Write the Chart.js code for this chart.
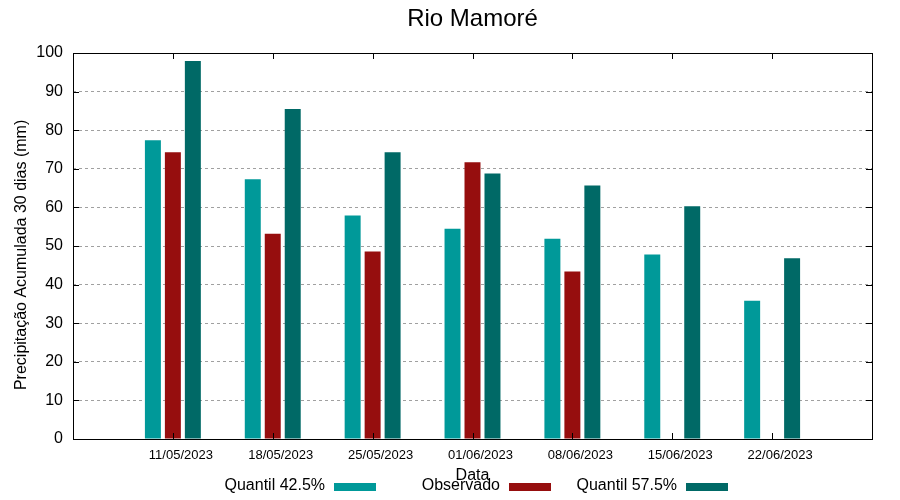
<!DOCTYPE html>
<html>
<head>
<meta charset="utf-8">
<script src="https://cdn.jsdelivr.net/npm/chart.js@4.4.0/dist/chart.umd.min.js"></script>
<style>
  html, body { margin: 0; padding: 0; background: #fff; }
  #wrap { width: 900px; height: 500px; }
</style>
</head>
<body>
<div id="wrap"><canvas id="grafico" width="900" height="500"></canvas></div>
<script>
const datas = ['11/05/2023', '18/05/2023', '25/05/2023', '01/06/2023', '08/06/2023', '15/06/2023', '22/06/2023'];
const quantil425 = [77.4, 67.3, 57.9, 54.5, 51.9, 47.8, 35.8];
const observado = [74.3, 53.2, 48.6, 71.7, 43.4, null, null];
const quantil575 = [97.9, 85.5, 74.3, 68.8, 65.7, 60.3, 46.8];

const cores = ['#009999', '#960e0e', '#006966'];
const FONTE = 'Liberation Sans, Arial, sans-serif';
const titulo = 'Rio Mamoré';

const pontos = arr => arr.map((v, i) => ({ x: i, y: v }));

// moldura + tiques para dentro, estilo gnuplot
const moldura = {
  id: 'moldura',
  afterDatasetsDraw(chart) {
    const { ctx, chartArea: a, scales } = chart;
    ctx.save();
    ctx.strokeStyle = '#000';
    ctx.lineWidth = 1;
    ctx.beginPath();
    scales.y.ticks.forEach(t => {
      if (t.value <= 0 || t.value >= 100) return;
      const y = Math.round(scales.y.getPixelForValue(t.value)) + 0.5;
      ctx.moveTo(a.left, y); ctx.lineTo(a.left + 6, y);
      ctx.moveTo(a.right, y); ctx.lineTo(a.right - 6, y);
    });
    datas.forEach((d, i) => {
      const x = Math.round(scales.x.getPixelForValue(i)) + 0.5;
      ctx.moveTo(x, a.bottom); ctx.lineTo(x, a.bottom - 6);
      ctx.moveTo(x, a.top); ctx.lineTo(x, a.top + 6);
    });
    ctx.stroke();
    ctx.strokeRect(Math.round(a.left) + 0.5, Math.round(a.top) + 0.5,
      Math.round(a.right - a.left), Math.round(a.bottom - a.top));
    ctx.restore();
  },
  afterDraw(chart) {
    const { ctx, chartArea: a } = chart;
    ctx.save();
    // titulo centrado sobre a area do grafico
    ctx.fillStyle = '#000';
    ctx.font = '24px ' + FONTE;
    ctx.textAlign = 'center';
    ctx.textBaseline = 'middle';
    ctx.fillText(titulo, (a.left + a.right) / 2, 19);
    // legenda: texto primeiro, depois a caixa
    const fimTexto = [325, 500, 677];
    ctx.font = '16px ' + FONTE;
    ctx.textAlign = 'right';
    chart.data.datasets.forEach((ds, i) => {
      ctx.fillStyle = '#000';
      ctx.fillText(ds.label, fimTexto[i], 486);
      ctx.fillStyle = ds.backgroundColor;
      ctx.fillRect(fimTexto[i] + 9, 483, 42, 8);
    });
    ctx.restore();
  }
};

new Chart(document.getElementById('grafico'), {
  type: 'bar',
  data: {
    datasets: [
      { label: 'Quantil 42.5%', data: pontos(quantil425), backgroundColor: cores[0] },
      { label: 'Observado', data: pontos(observado), backgroundColor: cores[1] },
      { label: 'Quantil 57.5%', data: pontos(quantil575), backgroundColor: cores[2] }
    ]
  },
  options: {
    responsive: false,
    animation: false,
    devicePixelRatio: 1,
    categoryPercentage: 0.6,
    barPercentage: 0.8,
    layout: { padding: { left: 0, right: 28, top: 53, bottom: 0 } },
    plugins: {
      legend: { display: false },
      tooltip: { enabled: false },
      title: { display: false }
    },
    scales: {
      x: {
        type: 'linear',
        min: -1,
        max: 7,
        offset: false,
        grid: { display: false, drawTicks: false },
        border: { display: false },
        ticks: {
          stepSize: 1,
          autoSkip: false,
          maxRotation: 0,
          padding: 9,
          labelOffset: 8,
          color: '#000',
          font: { family: FONTE, size: 13 },
          callback: v => datas[v] ?? ''
        },
        title: {
          display: true,
          text: 'Data',
          color: '#000',
          font: { family: FONTE, size: 16 },
          padding: { top: 15, bottom: 15 }
        },
        afterFit: s => { s.height = 61; }
      },
      y: {
        min: 0,
        max: 100,
        grid: {
          drawTicks: false,
          color: c => (c.tick.value === 0 || c.tick.value === 100) ? 'rgba(0,0,0,0)' : '#a0a0a0',
          lineWidth: 1
        },
        border: { display: false, dash: [3, 3] },
        ticks: {
          stepSize: 10,
          padding: 10,
          color: '#000',
          font: { family: FONTE, size: 16 }
        },
        title: {
          display: true,
          text: 'Precipitação Acumulada 30 dias (mm)    ',
          color: '#000',
          font: { family: FONTE, size: 16 },
          padding: { top: 12, bottom: 12 }
        },
        afterFit: s => { s.width = 73; }
      }
    }
  },
  plugins: [moldura]
});
</script>
</body>
</html>
